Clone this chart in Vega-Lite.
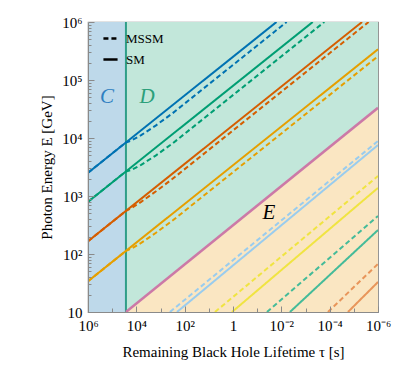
{
  "$schema": "https://vega.github.io/schema/vega-lite/v6.json",
  "width": 290,
  "height": 290,
  "autosize": {"type": "none"},
  "padding": {"left": 88, "top": 22, "right": 17, "bottom": 55},
  "background": "white",
  "config": {
    "view": {"stroke": "#8a8a8a", "strokeWidth": 1.2},
    "font": "Liberation Serif",
    "axis": {"labelFont": "Liberation Serif", "titleFont": "Liberation Serif", "labelColor": "black", "titleColor": "black", "titleFontWeight": "normal", "grid": false}
  },
  "datasets": {
    "lines": [
      {"line": "blue", "model": "SM", "tau": 1000000, "E": 2512},
      {"line": "blue", "model": "SM", "tau": 0.01585, "E": 1000000},
      {"line": "blue", "model": "MSSM", "tau": 1000000, "E": 2512},
      {"line": "blue", "model": "MSSM", "tau": 26915, "E": 8380},
      {"line": "blue", "model": "MSSM", "tau": 15849, "E": 9078},
      {"line": "blue", "model": "MSSM", "tau": 6310, "E": 11206},
      {"line": "blue", "model": "MSSM", "tau": 1585, "E": 16383},
      {"line": "blue", "model": "MSSM", "tau": 316.2, "E": 26716},
      {"line": "blue", "model": "MSSM", "tau": 0.00603, "E": 1000000},
      {"line": "green", "model": "SM", "tau": 1000000, "E": 794},
      {"line": "green", "model": "SM", "tau": 0.000501, "E": 1000000},
      {"line": "green", "model": "MSSM", "tau": 1000000, "E": 794},
      {"line": "green", "model": "MSSM", "tau": 26915, "E": 2651},
      {"line": "green", "model": "MSSM", "tau": 15849, "E": 2831},
      {"line": "green", "model": "MSSM", "tau": 6310, "E": 3445},
      {"line": "green", "model": "MSSM", "tau": 1585, "E": 4982},
      {"line": "green", "model": "MSSM", "tau": 316.2, "E": 8066},
      {"line": "green", "model": "MSSM", "tau": 0.000166, "E": 1000000},
      {"line": "vermillion", "model": "SM", "tau": 1000000, "E": 166},
      {"line": "vermillion", "model": "SM", "tau": 0.00000457, "E": 1000000},
      {"line": "vermillion", "model": "MSSM", "tau": 1000000, "E": 166},
      {"line": "vermillion", "model": "MSSM", "tau": 26915, "E": 554},
      {"line": "vermillion", "model": "MSSM", "tau": 15849, "E": 621},
      {"line": "vermillion", "model": "MSSM", "tau": 6310, "E": 793},
      {"line": "vermillion", "model": "MSSM", "tau": 1585, "E": 1193},
      {"line": "vermillion", "model": "MSSM", "tau": 316.2, "E": 1980},
      {"line": "vermillion", "model": "MSSM", "tau": 0.00000245, "E": 1000000},
      {"line": "orange", "model": "SM", "tau": 1000000, "E": 33.9},
      {"line": "orange", "model": "SM", "tau": 0.000001, "E": 338844},
      {"line": "orange", "model": "MSSM", "tau": 1000000, "E": 33.9},
      {"line": "orange", "model": "MSSM", "tau": 26915, "E": 113.1},
      {"line": "orange", "model": "MSSM", "tau": 15849, "E": 124.2},
      {"line": "orange", "model": "MSSM", "tau": 6310, "E": 155.4},
      {"line": "orange", "model": "MSSM", "tau": 1585, "E": 229.8},
      {"line": "orange", "model": "MSSM", "tau": 316.2, "E": 377.4},
      {"line": "orange", "model": "MSSM", "tau": 0.000001, "E": 257040},
      {"line": "skyblue", "model": "SM", "tau": 208, "E": 10},
      {"line": "skyblue", "model": "SM", "tau": 0.000001, "E": 7568},
      {"line": "skyblue", "model": "MSSM", "tau": 407, "E": 10},
      {"line": "skyblue", "model": "MSSM", "tau": 0.000001, "E": 8872},
      {"line": "yellow", "model": "SM", "tau": 1.10, "E": 10},
      {"line": "yellow", "model": "SM", "tau": 0.000001, "E": 1380},
      {"line": "yellow", "model": "MSSM", "tau": 5.57, "E": 10},
      {"line": "yellow", "model": "MSSM", "tau": 0.000001, "E": 2213},
      {"line": "teal", "model": "SM", "tau": 0.0044, "E": 10},
      {"line": "teal", "model": "SM", "tau": 0.000001, "E": 259},
      {"line": "teal", "model": "MSSM", "tau": 0.0393, "E": 10},
      {"line": "teal", "model": "MSSM", "tau": 0.000001, "E": 452},
      {"line": "lightorange", "model": "SM", "tau": 0.0000175, "E": 10},
      {"line": "lightorange", "model": "SM", "tau": 0.000001, "E": 32.9},
      {"line": "lightorange", "model": "MSSM", "tau": 0.0001175, "E": 10},
      {"line": "lightorange", "model": "MSSM", "tau": 0.000001, "E": 67.6}
    ],
    "pink": [
      {"tau": 26915, "E": 10},
      {"tau": 0.000001, "E": 33113}
    ],
    "region": [
      {"tau": 1000000, "tau2": 26915, "E": 10, "E2": 1000000}
    ],
    "labels": [
      {"text": "C", "tau": 163700, "E": 50930},
      {"text": "D", "tau": 3622, "E": 50930},
      {"text": "E", "tau": 0.03243, "E": 509}
    ]
  },
  "encoding": {
    "x": {
      "field": "tau", "type": "quantitative",
      "scale": {"type": "log", "domain": [0.000001, 1000000], "reverse": true, "nice": false},
      "axis": {
        "title": "Remaining Black Hole Lifetime τ [s]",
        "values": [0.000001, 0.00001, 0.0001, 0.001, 0.01, 0.1, 1, 10, 100, 1000, 10000, 100000, 1000000],
        "labelExpr": "['10⁻⁶','','10⁻⁴','','10⁻²','','1','','10²','','10⁴','','10⁶'][round(log(datum.value)/LN10)+6]",
        "tickSize": {"condition": {"test": "round(log(datum.value)/LN10) % 2 == 0", "value": -6}, "value": -4},
        "tickColor": "#8a8a8a",
        "domainColor": "#8a8a8a",
        "labelFontSize": 15,
        "titleFontSize": 15,
        "labelPadding": 12,
        "titlePadding": 9,
        "labelOverlap": false,
        "labelFlush": false,
        "zindex": 1
      }
    },
    "y": {
      "field": "E", "type": "quantitative",
      "scale": {"type": "log", "domain": [10, 1000000], "nice": false},
      "axis": {
        "title": "Photon Energy E [GeV]",
        "values": [10, 20, 30, 40, 50, 60, 70, 80, 90, 100, 200, 300, 400, 500, 600, 700, 800, 900, 1000, 2000, 3000, 4000, 5000, 6000, 7000, 8000, 9000, 10000, 20000, 30000, 40000, 50000, 60000, 70000, 80000, 90000, 100000, 200000, 300000, 400000, 500000, 600000, 700000, 800000, 900000, 1000000],
        "labelExpr": "abs(log(datum.value)/LN10 - round(log(datum.value)/LN10)) < 0.01 ? ['','10','10²','10³','10⁴','10⁵','10⁶'][round(log(datum.value)/LN10)] : ''",
        "tickSize": {"condition": {"test": "abs(log(datum.value)/LN10 - round(log(datum.value)/LN10)) < 0.01", "value": -6}, "value": -3},
        "tickColor": "#8a8a8a",
        "domainColor": "#8a8a8a",
        "labelFontSize": 15,
        "titleFontSize": 15,
        "labelPadding": 12,
        "titlePadding": 7,
        "labelOverlap": false,
        "labelFlush": false,
        "zindex": 1
      }
    }
  },
  "layer": [
    {
      "data": {"name": "region"},
      "mark": {"type": "rect", "color": "#BED9EA"},
      "encoding": {"x2": {"field": "tau2"}, "y2": {"field": "E2"}}
    },
    {
      "data": {"name": "pink"},
      "mark": {"type": "area", "color": "#C2E7DA", "opacity": 1},
      "encoding": {"y2": {"datum": 1000000}}
    },
    {
      "data": {"name": "pink"},
      "mark": {"type": "area", "color": "#FAE6C2", "opacity": 1},
      "encoding": {"y2": {"datum": 10}}
    },
    {
      "data": {"name": "region"},
      "mark": {"type": "rule", "color": "#2F9E88", "strokeWidth": 2},
      "encoding": {"x": {"field": "tau2", "type": "quantitative"}, "y2": {"field": "E2"}}
    },
    {
      "data": {"name": "lines"},
      "mark": {"type": "line", "strokeWidth": 2, "clip": true},
      "encoding": {
        "color": {
          "field": "line", "type": "nominal", "legend": null,
          "scale": {
            "domain": ["blue", "green", "vermillion", "orange", "skyblue", "yellow", "teal", "lightorange"],
            "range": ["#0072B2", "#009E73", "#D55E00", "#E69F00", "#99CCEE", "#F0E442", "#44BB99", "#E8955A"]
          }
        },
        "strokeDash": {
          "field": "model", "type": "nominal",
          "scale": {"domain": ["MSSM", "SM"], "range": [[5, 3], [1, 0]]},
          "legend": {
            "title": null, "orient": "none", "legendX": 14, "legendY": 8,
            "symbolType": "stroke", "symbolSize": 200, "symbolStrokeColor": "black",
            "symbolStrokeWidth": 2.5, "labelFontSize": 13, "labelFont": "Liberation Serif",
            "labelColor": "black", "rowPadding": 5, "labelOffset": 7
          }
        }
      }
    },
    {
      "data": {"name": "pink"},
      "mark": {"type": "line", "color": "#CC79A7", "strokeWidth": 2.5, "clip": true},
      "encoding": {}
    },
    {
      "data": {"name": "labels"},
      "transform": [{"filter": "datum.text == 'C'"}],
      "mark": {"type": "text", "font": "Liberation Serif", "fontStyle": "italic", "fontSize": 21, "color": "#2F7FC1"},
      "encoding": {"text": {"field": "text"}}
    },
    {
      "data": {"name": "labels"},
      "transform": [{"filter": "datum.text == 'D'"}],
      "mark": {"type": "text", "font": "Liberation Serif", "fontStyle": "italic", "fontSize": 21, "color": "#2BA07A"},
      "encoding": {"text": {"field": "text"}}
    },
    {
      "data": {"name": "labels"},
      "transform": [{"filter": "datum.text == 'E'"}],
      "mark": {"type": "text", "font": "Liberation Serif", "fontStyle": "italic", "fontSize": 21, "color": "black"},
      "encoding": {"text": {"field": "text"}}
    }
  ]
}
